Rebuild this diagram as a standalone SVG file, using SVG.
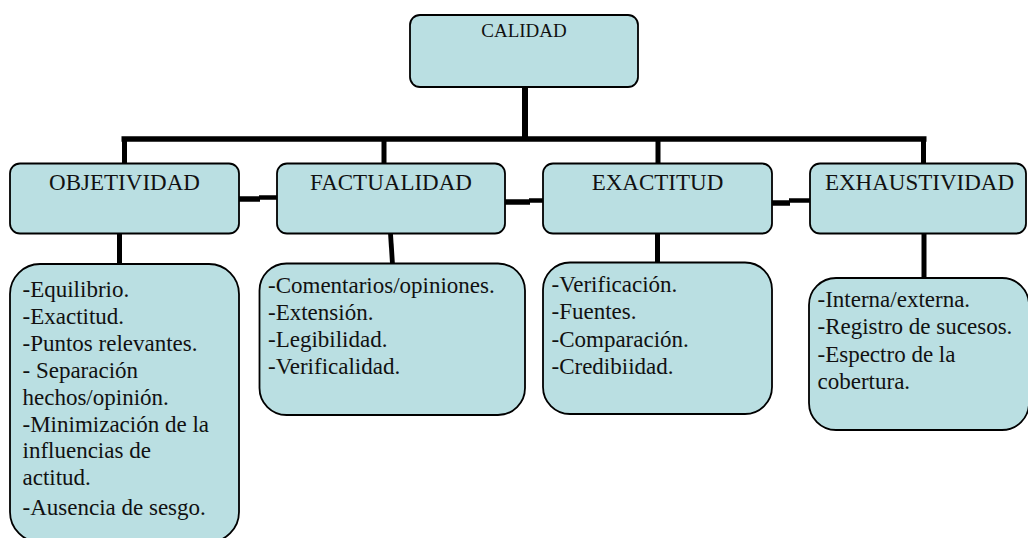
<svg xmlns="http://www.w3.org/2000/svg" width="1028" height="538" viewBox="0 0 1028 538">
<style>
.box{fill:#BADFE2;stroke:#000;stroke-width:1.8}
.t{font-family:"Liberation Serif","Times New Roman",serif;font-size:23px;fill:#111}
.h{text-anchor:middle}
.c{fill:none;stroke:#000;stroke-linecap:butt}
</style>
<rect width="1028" height="538" fill="#fff"/>
<g id="connectors">
<path class="c" d="M525 87V139" stroke-width="6"/>
<path class="c" d="M121.5 139H926.5" stroke-width="5.5"/>
<path class="c" d="M124.5 139V163.5M384 139V163.5M658 139V163.5M923.5 139V163.5" stroke-width="5"/>
<path class="c" d="M119.5 233.5V264M657.5 233.5V262M924 233.5V278" stroke-width="5"/>
<path class="c" d="M390.5 233.5L392.5 264" stroke-width="4.8"/>
<path class="c" d="M239 199H260" stroke-width="5.5"/>
<path class="c" d="M259 197.5H277" stroke-width="4.5"/>
<path class="c" d="M505 202H530" stroke-width="5.5"/>
<path class="c" d="M529 200.5H543" stroke-width="4.5"/>
<path class="c" d="M772 203H790" stroke-width="5.5"/>
<path class="c" d="M789 200.5H810" stroke-width="4.5"/>
</g>
<g id="calidad">
<rect class="box" x="410" y="15" width="228" height="72" rx="10"/>
<text class="t h" x="524" y="37" style="font-size:19px">CALIDAD</text>
</g>
<g id="objetividad">
<rect class="box" x="10" y="163.5" width="229" height="70" rx="10"/>
<text class="t h" x="124.5" y="189.5">OBJETIVIDAD</text>
</g>
<g id="factualidad">
<rect class="box" x="277" y="163.5" width="228" height="70" rx="10"/>
<text class="t h" x="391" y="189.5">FACTUALIDAD</text>
</g>
<g id="exactitud">
<rect class="box" x="543" y="163.5" width="229" height="70" rx="10"/>
<text class="t h" x="657.5" y="189.5">EXACTITUD</text>
</g>
<g id="exhaustividad">
<rect class="box" x="810" y="163.5" width="216" height="70" rx="10"/>
<text class="t h" x="919.5" y="189.5">EXHAUSTIVIDAD</text>
</g>
<g id="objetividad-detalle">
<rect class="box" x="10" y="264" width="229" height="278" rx="30"/>
<text class="t" x="22.5">
<tspan x="22.5" y="297">-Equilibrio.</tspan>
<tspan x="22.5" y="324">-Exactitud.</tspan>
<tspan x="22.5" y="351">-Puntos relevantes.</tspan>
<tspan x="22.5" y="378">- Separación</tspan>
<tspan x="22.5" y="405">hechos/opinión.</tspan>
<tspan x="22.5" y="431.5">-Minimización de la</tspan>
<tspan x="22.5" y="458">influencias de</tspan>
<tspan x="22.5" y="484.5">actitud.</tspan>
<tspan x="22.5" y="515">-Ausencia de sesgo.</tspan>
</text>
</g>
<g id="factualidad-detalle">
<rect class="box" x="259.5" y="263.5" width="265.5" height="151.5" rx="27"/>
<text class="t">
<tspan x="268" y="293.3">-Comentarios/opiniones.</tspan>
<tspan x="268" y="320.2">-Extensión.</tspan>
<tspan x="268" y="347.1">-Legibilidad.</tspan>
<tspan x="268" y="374">-Verificalidad.</tspan>
</text>
</g>
<g id="exactitud-detalle">
<rect class="box" x="543" y="262.5" width="229" height="151.5" rx="27"/>
<text class="t">
<tspan x="551.5" y="291.7">-Verificación.</tspan>
<tspan x="551.5" y="319.1">-Fuentes.</tspan>
<tspan x="551.5" y="346.5">-Comparación.</tspan>
<tspan x="551.5" y="373.5">-Credibiidad.</tspan>
</text>
</g>
<g id="exhaustividad-detalle">
<rect class="box" x="809" y="278" width="220" height="152" rx="27"/>
<text class="t">
<tspan x="817.5" y="306.7">-Interna/externa.</tspan>
<tspan x="817.5" y="334">-Registro de sucesos.</tspan>
<tspan x="817.5" y="361.5">-Espectro de la</tspan>
<tspan x="817.5" y="388.5">cobertura.</tspan>
</text>
</g>
</svg>
